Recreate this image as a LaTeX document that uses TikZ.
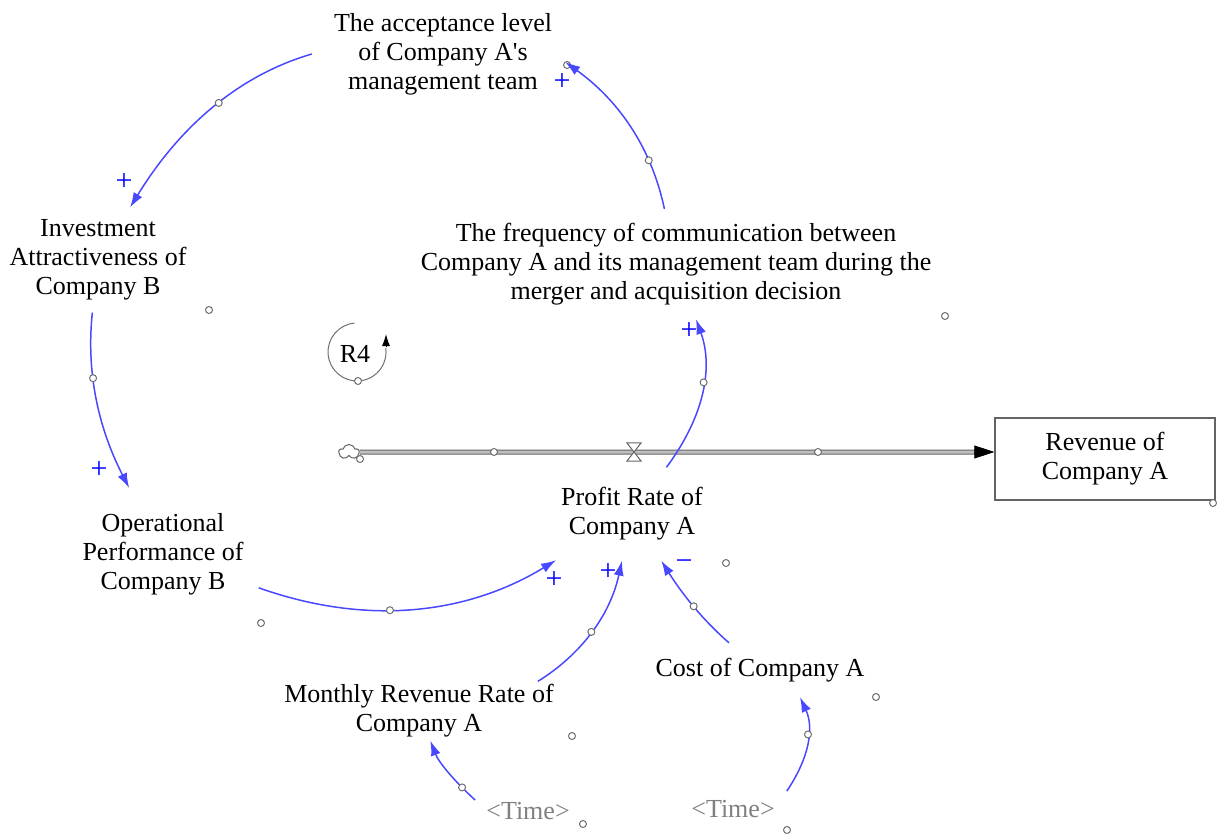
\documentclass[tikz,border=0pt]{standalone}
\usepackage{fontspec}
\newfontfamily\vf{Liberation Serif}
\usetikzlibrary{arrows.meta,calc,shapes.symbols}
\definecolor{lnk}{RGB}{72,72,255}
\definecolor{sgnc}{RGB}{0,0,255}
\definecolor{hndc}{RGB}{110,110,110}
\definecolor{pipec}{RGB}{100,100,100}
\definecolor{timec}{RGB}{128,128,128}
\begin{document}
\begin{tikzpicture}[x=1pt,y=-1pt,
  every node/.style={font=\vf\fontsize{26}{29}\selectfont},
  var/.style={align=center, inner sep=2pt},
  link/.style={draw=lnk, line width=1.5pt, -{Latex[length=15pt,width=10pt]}},
  hnd/.style={circle, draw=hndc, fill=white, inner sep=0pt, minimum size=7pt, line width=1pt},
  sgn/.style={text=sgnc, font=\vf\fontsize{30}{30}\selectfont, inner sep=0pt},
  pipe/.style={draw=pipec, line width=1pt, double=black!25, double distance=3pt},
]
\useasboundingbox (0,0) rectangle (1218,834);

% variables
\node[var, inner xsep=22pt, inner ysep=4pt] (acc) at (443,54) {The acceptance level\\of Company A's\\management team};
\node[var, inner xsep=4pt, inner ysep=12pt] (inv) at (98,260) {Investment\\Attractiveness of\\Company B};
\node[var, inner ysep=14pt] (freq) at (676,264) {The frequency of communication between\\Company A and its management team during the\\merger and acquisition decision};
\node[var, inner xsep=15pt, inner ysep=25pt] (op) at (163,554) {Operational\\Performance of\\Company B};
\node[var, inner xsep=5pt, inner ysep=20pt] (profit) at (632,514) {Profit Rate of\\Company A};
\node[var, inner ysep=3pt] (month) at (419,711) {Monthly Revenue Rate of\\Company A};
\node[var, inner ysep=15pt] (cost) at (760,670) {Cost of Company A};
\node[var, text=timec] (time1) at (528,811) {<Time>};
\node[var, text=timec] (time2) at (733,809) {<Time>};

% stock and flow
\node[draw=pipec, line width=1.2pt, minimum width=220pt, minimum height=82pt, align=center, inner sep=0pt] (stock) at (1105,459) {Revenue of\\Company A};
\node[cloud, draw=pipec, cloud puffs=5, aspect=1.3, minimum width=20pt, minimum height=15pt, inner sep=0pt, line width=1pt] (src) at (349,452) {};
\draw[pipe] (src.east) -- ([shift={(-18,-7)}]stock.west);
\draw[-{Triangle[length=20pt,width=13pt]}, line width=0.6pt, black] ([shift={(-20,-7)}]stock.west) -- ([shift={(0,-7)}]stock.west);
\node[inner sep=0pt, minimum width=14pt, minimum height=18pt] (valve) at (634,452) {};
\draw[draw=pipec, line width=1pt, fill=white] (valve.north west) -- (valve.north east) -- (valve.south west) -- (valve.south east) -- cycle;
\node[hnd] (hp1) at (494,452) {};
\node[hnd] (hp2) at (818,452) {};
\node[hnd] (hp3) at (360,459) {};

% loop R4
\node (r4) at (355,354) {R4};
\draw[draw=hndc, line width=1pt] ([shift={(-0.5,-30.9)}]r4.center) arc[start angle=-95, end angle=-368, radius=29];
\draw[line width=1pt, -{Latex[length=12pt,width=8pt]}, black] ([shift={(31,-8)}]r4.center) -- ([shift={(31,-20)}]r4.center);
\node[hnd] (hr4) at (358,381) {};

% causal links
\node[hnd] (h0) at (567,65) {};
\draw[link] (acc.west) .. controls (240.7,74.7) and (180.7,124.7) .. (inv) node[hnd, pos=0.47] (m1) {};
\draw[link] (freq) .. controls (650.7,144) and (615.7,98.3) .. ([shift={(-9,8)}]acc.east) node[hnd, pos=0.27] (m2) {};
\draw[link] (inv) .. controls (86.4,368.1) and (96.4,424.1) .. (op) node[hnd, pos=0.39] (m3) {};
\draw[link] (profit) .. controls (705.4,414.7) and (713.1,366.3) .. (freq) node[hnd, pos=0.56] (m4) {};
\draw[link] (op) .. controls (366.1,625.9) and (466.1,614.9) .. (profit) node[hnd, pos=0.42] (m5) {};
\draw[link] ([shift={(-18,0)}]month.north east) .. controls (580.3,655) and (610,616) .. (profit) node[hnd, pos=0.5] (m6) {};
\draw[link] (cost) .. controls (703.3,620.3) and (683,595.3) .. (profit) node[hnd, pos=0.5] (m7) {};
\draw[link] ([shift={(-9,0)}]time1.north west) .. controls (454.1,780.9) and (438.5,761.9) .. (month) node[hnd, pos=0.22] (m8) {};
\draw[link] ([shift={(10,-7)}]time2.north east) .. controls (809.7,756.9) and (814,727.6) .. ([shift={(40,0)}]cost.south) node[hnd, pos=0.59] (m9) {};

% polarity signs
\node[sgn] (s1) at (124,182) {+};
\node[sgn] (s2) at (562,82) {+};
\node[sgn] (s3) at (99,470) {+};
\node[sgn] (s4) at (689,331) {+};
\node[sgn] (s5) at (554,580) {+};
\node[sgn] (s6) at (608,572) {+};
\node[sgn] (s7) at (684,565) {−};

% free handles
\node[hnd] (h1) at (209,310) {};
\node[hnd] (h2) at (945,316) {};
\node[hnd] (h3) at (261,623) {};
\node[hnd] (h4) at (726,563) {};
\node[hnd] (h5) at (876,697) {};
\node[hnd] (h6) at (572,736) {};
\node[hnd] (h7) at (583,824) {};
\node[hnd] (h8) at (787,830) {};
\node[hnd] (h9) at (1213,503) {};
\end{tikzpicture}
\end{document}
